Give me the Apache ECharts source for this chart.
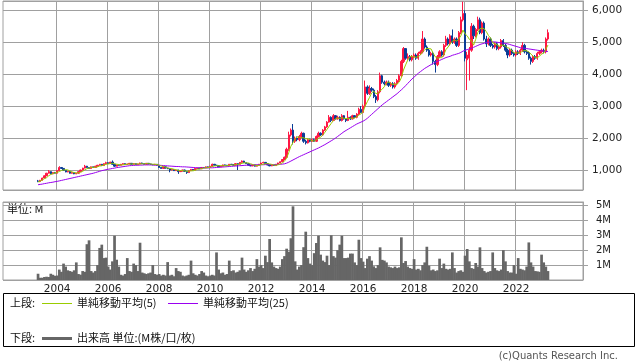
<!DOCTYPE html>
<html><head><meta charset="utf-8">
<script src="https://cdn.jsdelivr.net/npm/echarts@6/dist/echarts.min.js"></script>
<style>html,body{margin:0;padding:0;background:#fff}#c{width:638px;height:362px}</style>
</head><body><div id="c"></div>
<script>
// Monthly bars, Apr 2003 .. Apr 2023
const firstMonth = '2003-04';
const axisStart = '2001-12';
const axisEnd = '2024-08';
const yearTicks = ['2004','2006','2008','2010','2012','2014','2016','2018','2020','2022'];
const priceTicks = [1000,2000,3000,4000,5000,6000];
const volumeTicks = ['1M','2M','3M','4M','5M'];

const opens = [
 660,640,680,750,820,900,950,880,920,
 900,980,1080,1050,990,940,960,900,920,880,900,950,
 1000,1060,1120,1080,1050,1100,1080,1120,1150,1180,1140,1200,
 1230,1200,1250,1180,1120,1160,1150,1180,1200,1170,1190,1210,
 1180,1200,1170,1190,1220,1200,1180,1210,1190,1170,1160,1180,
 1150,1080,1050,1100,1060,1040,1000,1020,980,1000,950,970,
 1000,960,920,980,1020,1000,1050,1060,1040,1080,1070,1100,
 1080,1120,1180,1150,1140,1100,1120,1160,1150,1140,1180,1170,
 1150,1200,1180,1240,1280,1230,1200,1150,1130,1160,1120,1150,
 1180,1220,1240,1200,1160,1130,1150,1140,1180,1220,1260,1330,
 1400,1650,2100,2250,1900,2000,1950,2050,2150,1900,1850,1950,
 1900,1950,1900,2050,2150,2100,2250,2350,2500,2650,2550,2700,
 2600,2650,2550,2700,2600,2550,2650,2600,2700,2650,2750,2900,
 2800,3000,3600,3400,3550,3500,3300,3200,3450,3950,3750,3700,
 3750,3650,3700,3600,3700,3800,3950,4400,4800,4500,4550,4450,
 4550,4600,4500,4650,4700,5100,4850,4750,4600,4650,4400,4300,
 4550,4700,4600,4900,5100,4950,5200,5000,5100,4900,5300,5700,
 5900,4450,4500,4750,5500,5200,5400,5700,5300,5600,5100,4950,
 5100,4900,4850,4950,4800,4850,5050,4900,4750,4600,4750,4650,
 4600,4700,4650,4750,4900,4700,4650,4500,4400,4550,4500,4650,
 4700,4750,4700,5100
];
const closes = [
 640,680,750,820,900,950,880,920,900,
 980,1080,1050,990,940,960,900,920,880,900,950,1000,
 1060,1120,1080,1050,1100,1080,1120,1150,1180,1140,1200,1230,
 1200,1250,1180,1120,1160,1150,1180,1200,1170,1190,1210,1180,
 1200,1170,1190,1220,1200,1180,1210,1190,1170,1160,1180,1150,
 1080,1050,1100,1060,1040,1000,1020,980,1000,950,970,1000,
 960,920,980,1020,1000,1050,1060,1040,1080,1070,1100,1080,
 1120,1180,1150,1140,1100,1120,1160,1150,1140,1180,1170,1150,
 1200,1180,1240,1280,1230,1200,1150,1130,1160,1120,1150,1180,
 1220,1240,1200,1160,1130,1150,1140,1180,1220,1260,1330,1400,
 1650,2100,2250,1900,2000,1950,2050,2150,1900,1850,1950,1900,
 1950,1900,2050,2150,2100,2250,2350,2500,2650,2550,2700,2600,
 2650,2550,2700,2600,2550,2650,2600,2700,2650,2750,2900,2800,
 3000,3600,3400,3550,3500,3300,3200,3450,3950,3750,3700,3750,
 3650,3700,3600,3700,3800,3950,4400,4800,4500,4550,4450,4550,
 4600,4500,4650,4700,5100,4850,4750,4600,4650,4400,4300,4550,
 4700,4600,4900,5100,4950,5200,5000,5100,4900,5300,5700,5900,
 4500,4600,4750,5500,5200,5400,5700,5300,5600,5100,4950,5100,
 4900,4850,4950,4800,4850,5050,4900,4750,4600,4750,4650,4600,
 4700,4650,4750,4900,4700,4650,4500,4400,4550,4500,4650,4700,
 4750,4700,5100,5300
];
const highs = [
 690,690,760,830,910,1000,960,930,940,
 990,1120,1090,1060,1000,970,970,930,930,910,960,1010,
 1070,1160,1130,1090,1110,1110,1130,1160,1190,1190,1210,1260,
 1240,1260,1300,1190,1170,1170,1190,1210,1210,1200,1220,1220,
 1210,1210,1200,1230,1230,1210,1220,1220,1200,1180,1190,1190,
 1160,1090,1110,1110,1070,1050,1030,1030,1010,1010,980,1010,
 1010,970,990,1030,1030,1060,1070,1070,1090,1090,1110,1110,
 1130,1200,1190,1160,1150,1130,1170,1170,1160,1190,1190,1180,
 1210,1210,1250,1300,1290,1240,1210,1160,1170,1170,1160,1190,
 1230,1260,1250,1210,1170,1160,1160,1190,1230,1270,1340,1420,
 1700,2200,2300,2440,2050,2050,2100,2200,2170,1950,1980,1980,
 1980,1980,2080,2200,2180,2280,2380,2530,2720,2680,2750,2720,
 2700,2680,2750,2720,2620,2850,2680,2730,2720,2780,2950,3000,
 3050,3800,3650,3650,3600,3550,3350,3500,4050,3980,3800,3800,
 3800,3750,3750,3750,3850,4000,4450,4850,4800,4650,4600,4600,
 4650,4650,4700,4750,5350,5150,4900,4800,4700,4700,4450,4600,
 4750,4750,4950,5200,5150,5250,5400,5150,5150,5350,5800,6270,
 6000,4700,4850,5600,5550,5450,5800,5770,5650,5650,5200,5150,
 5150,4950,5000,5000,4900,5100,5100,4950,4800,4800,4800,4700,
 4750,4750,4800,5000,4950,4750,4700,4550,4600,4600,4700,4750,
 4800,4800,5150,5400
];
const lows = [
 620,620,670,740,810,890,870,870,890,
 890,970,1040,980,930,930,890,890,870,870,890,940,
 990,1050,1070,1040,1040,1070,1070,1110,1140,1130,1130,1190,
 1190,1190,1170,1100,1110,1140,1140,1170,1160,1160,1180,1170,
 1170,1160,1160,1180,1190,1170,1170,1180,1160,1150,1150,1140,
 1070,1040,1040,1050,1030,930,990,970,970,880,940,960,
 950,880,910,970,990,990,1040,1030,1030,1060,1060,1070,
 1070,1110,1140,1130,1090,1090,1110,1140,1130,1130,1160,1140,
 1140,1000,1170,1230,1220,1190,1140,1120,1120,1110,1110,1140,
 1170,1210,1190,1150,1120,1120,1130,1130,1170,1210,1250,1320,
 1380,1600,2050,1800,1850,1900,1900,2000,1850,1800,1830,1870,
 1880,1880,1880,2020,2070,2080,2220,2320,2480,2500,2530,2580,
 2580,2520,2520,2580,2500,2530,2570,2580,2620,2620,2720,2780,
 2780,2950,3350,3350,3450,3250,3100,3150,3400,3700,3650,3650,
 3600,3600,3550,3550,3650,3750,3900,4350,4450,4450,4400,4400,
 4500,4450,4450,4600,4650,4800,4700,4550,4550,4300,4050,4250,
 4500,4550,4550,4850,4900,4900,4950,4950,4850,4850,5250,5650,
 4400,3500,3800,4700,5100,5150,5350,5250,5250,5050,4850,4900,
 4850,4800,4800,4750,4750,4800,4850,4700,4500,4550,4600,4550,
 4550,4600,4600,4700,4650,4600,4450,4300,4350,4450,4450,4600,
 4650,4650,4650,5050
];
const ma5 = [
 630,650,690,730,760,820,860,890,910,
 926,952,986,1000,1008,1004,968,942,920,912,910,930,
 958,1006,1042,1062,1082,1086,1086,1100,1126,1134,1158,1180,
 1190,1204,1212,1196,1182,1172,1158,1162,1172,1178,1190,1190,
 1190,1190,1190,1192,1196,1192,1200,1200,1190,1182,1182,1170,
 1148,1124,1112,1088,1066,1050,1044,1020,1008,990,984,980,
 976,960,966,976,976,994,1022,1034,1046,1060,1070,1074,
 1090,1110,1126,1134,1138,1138,1134,1134,1134,1150,1160,1158,
 1168,1176,1188,1210,1226,1226,1220,1198,1174,1152,1142,1148,
 1166,1182,1198,1200,1190,1176,1156,1152,1164,1190,1226,1278,
 1372,1548,1746,1860,1980,2040,2030,2010,2010,1980,1980,1950,
 1910,1910,1950,1990,2030,2090,2180,2270,2370,2460,2550,2600,
 2630,2610,2640,2620,2610,2610,2620,2620,2630,2670,2720,2760,
 2820,3010,3140,3270,3410,3470,3390,3400,3480,3530,3610,3720,
 3760,3710,3680,3680,3690,3750,3890,4130,4290,4440,4540,4570,
 4530,4530,4550,4600,4710,4760,4810,4800,4790,4650,4540,4500,
 4520,4510,4610,4770,4850,4950,5030,5070,5030,5100,5200,5380,
 5260,5200,5090,5050,4910,5090,5310,5420,5440,5420,5330,5210,
 5130,4980,4950,4920,4870,4900,4910,4870,4830,4810,4730,4670,
 4660,4670,4670,4720,4740,4730,4700,4630,4560,4520,4520,4560,
 4630,4660,4780,4910
];
const ma25 = [
 540,550,560,575,585,600,610,620,635,645,
 660,675,690,705,720,735,750,765,780,795,
 810,825,840,855,870,885,900,920,940,960,
 980,995,1010,1025,1035,1050,1060,1075,1085,1095,
 1105,1115,1125,1135,1140,1145,1150,1150,1155,1155,
 1160,1160,1160,1160,1160,1155,1155,1150,1145,1140,
 1135,1130,1125,1120,1115,1110,1110,1105,1100,1100,
 1095,1090,1085,1080,1075,1070,1070,1065,1065,1065,
 1065,1070,1070,1075,1080,1085,1090,1095,1100,1105,
 1110,1115,1120,1125,1130,1135,1140,1145,1150,1155,
 1160,1160,1165,1165,1165,1165,1165,1170,1170,1170,
 1170,1170,1175,1175,1180,1185,1195,1215,1245,1280,
 1315,1350,1385,1420,1450,1480,1510,1540,1570,1600,
 1630,1660,1690,1725,1760,1795,1835,1875,1915,1955,
 2000,2050,2100,2150,2200,2240,2280,2320,2360,2400,
 2440,2470,2500,2530,2570,2620,2680,2740,2800,2860,
 2920,2980,3040,3090,3140,3190,3240,3290,3340,3390,
 3450,3510,3570,3640,3710,3780,3850,3910,3970,4030,
 4080,4130,4180,4220,4260,4300,4340,4370,4400,4430,
 4460,4490,4520,4540,4560,4590,4610,4630,4650,4680,
 4720,4750,4770,4790,4810,4840,4870,4900,4930,4950,
 4970,4990,5000,5010,5010,5010,5000,4990,4980,4970,
 4960,4950,4930,4910,4890,4870,4850,4830,4820,4810,
 4800,4790,4780,4770,4760,4750,4740,4730,4720,4715,
 4710
];
// volume in millions
const volume = [
 0.42,0.15,0.15,0.2,0.22,0.2,0.42,0.35,0.28,
 0.3,0.7,0.55,1.1,0.9,0.65,0.6,0.55,0.65,1.18,0.4,0.36,
 0.6,0.55,2.4,2.66,0.6,0.5,0.6,1.0,2.15,2.37,1.47,1.5,
 0.9,0.7,1.25,2.97,1.36,0.9,0.35,0.3,0.4,1.47,0.6,0.55,
 1.1,1.0,0.6,2.5,0.5,0.45,0.4,0.45,0.5,1.0,0.4,0.35,
 0.4,0.3,0.35,0.3,1.2,0.3,0.35,0.25,0.8,0.6,0.55,0.3,
 0.25,0.3,0.35,1.3,0.45,0.35,0.3,0.4,0.6,0.5,0.3,0.25,
 0.3,0.35,0.3,1.85,0.7,0.45,0.5,0.35,0.4,1.3,0.6,0.65,
 0.5,0.55,0.65,1.5,0.7,0.55,0.65,0.8,0.6,0.75,1.4,0.9,
 1.0,0.8,1.63,1.2,2.75,1.18,0.9,0.8,0.75,0.9,1.4,1.6,
 2.1,1.9,2.8,4.94,1.25,0.7,0.9,1.0,2.2,3.24,1.47,1.1,
 1.0,1.8,2.48,2.97,1.7,1.3,1.2,1.63,1.0,3.0,1.6,1.5,
 2.0,2.37,2.97,1.47,1.47,1.5,1.77,1.77,1.18,1.0,2.7,1.47,
 1.23,0.8,1.43,1.6,1.3,0.92,0.8,1.0,2.19,1.35,1.3,1.18,
 0.9,0.85,0.8,0.9,0.8,0.85,2.86,1.14,1.27,0.9,0.8,0.75,
 1.4,0.7,0.75,0.65,1.0,1.18,2.23,0.96,0.65,0.7,0.6,0.65,
 1.43,0.8,1.1,0.75,0.7,0.75,1.85,0.8,0.5,0.6,0.65,0.55,
 1.63,2.08,1.25,0.8,0.75,1.14,0.9,2.19,0.8,0.6,0.5,0.55,
 0.6,1.85,0.8,0.65,0.6,0.7,2.0,1.25,0.6,0.5,0.5,1.0,
 0.42,1.47,0.75,0.7,0.65,0.9,2.52,1.18,0.9,0.6,0.58,0.55,
 1.7,1.18,0.9,0.6
];

// ---- build category axis (months) ----
function monthList(a, b) {
  const out = [];
  let [y, m] = a.split('-').map(Number);
  const [ey, em] = b.split('-').map(Number);
  while (y < ey || (y === ey && m <= em)) {
    out.push(y + '-' + (m < 10 ? '0' + m : m));
    m++; if (m > 12) { m = 1; y++; }
  }
  return out;
}
const months = monthList(axisStart, axisEnd);
const offset = months.indexOf(firstMonth);
function place(arr) {
  const out = months.map(() => '-');
  arr.forEach((v, i) => { out[offset + i] = v; });
  return out;
}
const candleData = place(opens.map((o, i) => [o, closes[i], lows[i], highs[i]]));
const isYearTick = (idx) => {
  const v = months[idx];
  return v.slice(5) === '01' && yearTicks.indexOf(v.slice(0, 4)) >= 0;
};
const addCommas = v => String(v).replace(/\B(?=(\d{3})+(?!\d))/g, ',');

const GRID = '#a0a0a0';
const UP = '#ff1744';
const DOWN = '#0a3c96';
const C5 = '#99cc00';
const C25 = '#9a00f0';
const JP = '"Noto Sans CJK JP", sans-serif';

const chart = echarts.init(document.getElementById('c'), null, { renderer: 'canvas' });
chart.setOption({
  animation: false,
  backgroundColor: '#fff',
  grid: [
    { left: 3, right: 55, top: 1, height: 189, show: true, borderColor: GRID, borderWidth: 1, backgroundColor: 'transparent' },
    { left: 3, right: 55, top: 202, height: 78, show: true, borderColor: GRID, borderWidth: 1, backgroundColor: 'transparent' }
  ],
  xAxis: [
    { type: 'category', gridIndex: 0, data: months, boundaryGap: true,
      axisLine: { show: false }, axisTick: { show: false }, axisLabel: { show: false },
      splitLine: { show: true, interval: isYearTick, lineStyle: { color: GRID, width: 1 } } },
    { type: 'category', gridIndex: 1, data: months, boundaryGap: true,
      axisLine: { show: false }, axisTick: { show: false },
      axisLabel: { show: true, interval: isYearTick, margin: 4, formatter: v => v.slice(0, 4),
        fontSize: 10.5, color: '#222', fontFamily: 'DejaVu Sans' },
      splitLine: { show: true, interval: isYearTick, lineStyle: { color: GRID, width: 1 } } }
  ],
  yAxis: [
    { type: 'value', gridIndex: 0, position: 'right', min: 375, max: 6290, splitNumber: 5,
      axisLine: { show: true, lineStyle: { color: GRID } },
      axisTick: { show: true, length: 5, lineStyle: { color: GRID } },
      axisLabel: { margin: 9, showMinLabel: false, showMaxLabel: false,
        formatter: v => (priceTicks.indexOf(v) >= 0 ? addCommas(v) : ''),
        color: '#222', fontFamily: 'DejaVu Sans', fontSize: 10.5 },
      splitLine: { show: true, lineStyle: { color: GRID, width: 1 } } },
    { type: 'value', gridIndex: 1, position: 'right', min: 0, max: 5.23, interval: 1,
      axisLine: { show: true, lineStyle: { color: GRID } },
      axisTick: { show: true, length: 5, lineStyle: { color: GRID } },
      axisLabel: { margin: 13, showMinLabel: false, showMaxLabel: false,
        formatter: v => (v >= 1 && v <= 5 && Number.isInteger(v) ? volumeTicks[v - 1] : ''),
        color: '#222', fontFamily: 'DejaVu Sans', fontSize: 10 },
      splitLine: { show: true, lineStyle: { color: GRID, width: 1 } } }
  ],
  series: [
    { type: 'bar', xAxisIndex: 1, yAxisIndex: 1, data: place(volume), barWidth: 2.7,
      itemStyle: { color: '#666666' }, silent: true },
    { type: 'candlestick', xAxisIndex: 0, yAxisIndex: 0, data: candleData, barWidth: 1.8,
      itemStyle: { color: UP, color0: DOWN, borderColor: UP, borderColor0: DOWN, borderWidth: 1 } },
    { type: 'line', xAxisIndex: 0, yAxisIndex: 0, data: place(ma25), symbol: 'none',
      lineStyle: { color: C25, width: 1 }, z: 3 },
    { type: 'line', xAxisIndex: 0, yAxisIndex: 0, data: place(ma5), symbol: 'none',
      lineStyle: { color: C5, width: 1 }, z: 4 }
  ],
  graphic: [
    { type: 'text', left: 7, top: 203, style: { text: '単位: M', font: '11px ' + JP, fill: '#111' } },
    { type: 'rect', shape: { x: 3.5, y: 293.5, width: 631, height: 53 }, style: { fill: '#fff', stroke: '#000', lineWidth: 1 } },
    { type: 'text', x: 10, y: 303, style: { text: '上段:', font: '11px ' + JP, fill: '#111', textVerticalAlign: 'middle', verticalAlign: 'middle' } },
    { type: 'line', shape: { x1: 42, y1: 303.5, x2: 72, y2: 303.5 }, style: { stroke: C5, lineWidth: 1 } },
    { type: 'text', x: 77, y: 303, style: { text: '単純移動平均(5)', font: '11px ' + JP, fill: '#111', textVerticalAlign: 'middle', verticalAlign: 'middle' } },
    { type: 'line', shape: { x1: 168, y1: 303.5, x2: 198, y2: 303.5 }, style: { stroke: C25, lineWidth: 1 } },
    { type: 'text', x: 203, y: 303, style: { text: '単純移動平均(25)', font: '11px ' + JP, fill: '#111', textVerticalAlign: 'middle', verticalAlign: 'middle' } },
    { type: 'text', x: 10, y: 338, style: { text: '下段:', font: '11px ' + JP, fill: '#111', textVerticalAlign: 'middle', verticalAlign: 'middle' } },
    { type: 'line', shape: { x1: 42, y1: 338.5, x2: 72, y2: 338.5 }, style: { stroke: '#666', lineWidth: 3 } },
    { type: 'text', x: 77, y: 338, style: { text: '出来高 単位:(M株/口/枚)', font: '11px ' + JP, fill: '#111', textVerticalAlign: 'middle', verticalAlign: 'middle' } },
    { type: 'text', x: 618, y: 356, style: { text: '(c)Quants Research Inc.', font: '10px "DejaVu Sans"', fill: '#555', textAlign: 'right', align: 'right', textVerticalAlign: 'middle', verticalAlign: 'middle' } }
  ]
});
</script>
</body></html>
